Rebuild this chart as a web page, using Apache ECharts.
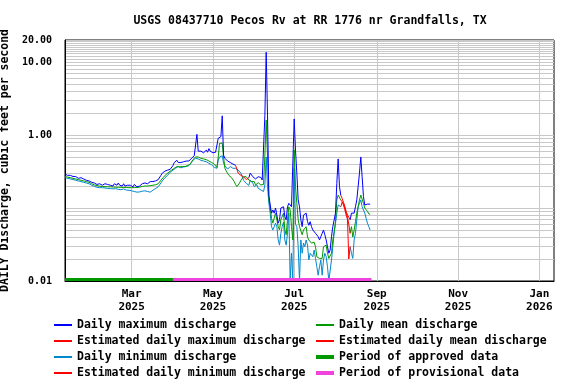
<!DOCTYPE html>
<html><head><meta charset="utf-8">
<script src="https://cdn.jsdelivr.net/npm/echarts@6/dist/echarts.min.js"></script>
<style>html,body{margin:0;padding:0;background:#fff}#c{width:576px;height:384px}</style>
</head><body><div id="c"></div>
<script>
// Daily series start on this date (year, monthIndex, day)
const seriesStart = [2025, 0, 10];

const maxQ = [
0.29,0.29,0.28,0.29,0.28,0.27,0.27,0.26,0.27,0.26,
0.255,0.25,0.26,0.25,0.25,0.245,0.24,0.245,0.235,0.23,
0.225,0.22,0.22,0.215,0.21,0.21,0.215,0.21,0.205,0.21,
0.215,0.205,0.21,0.22,0.205,0.21,0.2,0.215,0.21,0.205,
0.22,0.205,0.21,0.2,0.215,0.2,0.21,0.205,0.195,0.205,
0.2,0.195,0.21,0.2,0.195,0.205,0.2,0.21,0.215,0.225,
0.22,0.23,0.215,0.225,0.23,0.225,0.23,0.225,0.235,0.23,
0.245,0.26,0.28,0.3,0.31,0.32,0.32,0.33,0.33,0.34,
0.35,0.38,0.42,0.40,0.45,0.42,0.41,0.42,0.42,0.43,
0.43,0.44,0.45,0.44,0.46,0.48,0.5,0.52,0.55,1.02,
0.6,0.58,0.6,0.59,0.57,0.6,0.62,0.58,0.65,0.6,
0.6,0.57,0.55,0.58,0.6,0.9,0.94,0.95,1.83,0.53,
0.48,0.46,0.44,0.43,0.42,0.41,0.40,0.39,0.385,null,
null,null,null,null,null,null,null,null,0.26,0.30,
0.283,0.268,0.262,0.25,0.262,0.268,0.255,0.262,0.242,0.255,
1.83,13.6,1.83,0.15,0.11,0.085,0.094,0.085,0.1,0.08,
0.062,0.069,0.1,0.094,0.104,0.076,0.069,0.104,0.116,0.11,
0.104,0.1,1.66,0.62,0.3,0.129,0.104,0.069,0.0555,0.08,
0.076,0.085,0.065,0.058,0.065,0.0555,0.05,0.052,0.045,0.047,
0.0405,0.0365,0.0405,0.045,0.05,0.043,0.0365,0.0295,0.024,0.0266,
0.0405,0.0555,0.0686,0.085,0.218,0.47,0.196,0.15,null,null,
null,null,null,null,0.069,0.085,0.08,0.085,0.104,0.129,
0.125,0.3,0.5,0.268,0.143,0.11,0.116,0.113,0.113,0.113
];
const meanQ = [
0.27,0.268,0.265,0.265,0.26,0.26,0.255,0.255,0.25,0.25,
0.245,0.245,0.24,0.24,0.235,0.232,0.23,0.228,0.225,0.22,
0.215,0.21,0.207,0.205,0.203,0.2,0.199,0.198,0.197,0.197,
0.196,0.196,0.195,0.195,0.195,0.194,0.194,0.193,0.193,0.193,
0.192,0.192,0.192,0.192,0.191,0.191,0.191,0.19,0.19,0.19,
0.19,0.19,0.19,0.19,0.191,0.192,0.193,0.195,0.197,0.198,
0.2,0.2,0.2,0.2,0.202,0.203,0.205,0.207,0.208,0.21,
0.215,0.225,0.24,0.255,0.265,0.28,0.29,0.3,0.31,0.32,
0.33,0.34,0.35,0.36,0.37,0.37,0.365,0.365,0.37,0.37,
0.37,0.375,0.38,0.39,0.4,0.43,0.46,0.48,0.5,0.5,
0.5,0.49,0.48,0.47,0.47,0.46,0.46,0.45,0.44,0.43,
0.42,0.41,0.4,0.38,0.36,0.5,0.77,0.77,0.77,0.5,
0.35,0.32,0.3,0.28,0.27,0.26,0.25,0.23,0.21,0.196,
0.186,0.22,0.24,0.255,0.268,0.262,0.268,0.255,0.242,0.242,
0.23,0.23,0.23,0.207,0.218,0.222,0.213,0.207,0.218,0.21,
0.53,1.6,0.5,0.13,0.104,0.072,0.062,0.065,0.085,0.069,
0.0555,0.05,0.069,0.065,0.085,0.05,0.043,0.069,0.104,0.094,
0.0555,0.0365,0.62,0.196,0.116,0.069,0.0555,0.0555,0.043,0.05,
0.048,0.0555,0.04,0.0365,0.038,0.033,0.031,0.034,0.0295,0.0215,
0.0204,0.0204,0.0215,0.0204,0.0295,0.031,0.031,0.024,0.0204,0.0215,
0.024,0.0365,0.047,0.065,0.129,0.15,0.143,0.129,null,null,
null,null,null,null,0.045,0.0555,0.04,0.05,0.065,0.085,
0.104,0.129,0.15,0.143,0.116,0.1,0.094,0.09,0.083,0.082
];
const minQ = [
0.26,0.26,0.255,0.255,0.25,0.25,0.245,0.245,0.24,0.24,
0.235,0.235,0.23,0.23,0.225,0.222,0.22,0.218,0.215,0.21,
0.205,0.2,0.198,0.195,0.192,0.19,0.19,0.188,0.19,0.186,
0.188,0.186,0.185,0.186,0.184,0.186,0.183,0.185,0.184,0.182,
0.18,0.183,0.178,0.18,0.182,0.178,0.176,0.178,0.175,0.177,
0.172,0.17,0.168,0.166,0.165,0.17,0.166,0.172,0.17,0.168,
0.172,0.17,0.168,0.172,0.165,0.168,0.175,0.18,0.185,0.19,
0.196,0.205,0.22,0.235,0.25,0.26,0.27,0.28,0.295,0.31,
0.32,0.33,0.34,0.35,0.36,0.37,0.36,0.355,0.36,0.365,
0.36,0.37,0.37,0.38,0.39,0.42,0.45,0.47,0.48,0.48,
0.47,0.46,0.45,0.45,0.44,0.43,0.43,0.42,0.41,0.4,
0.39,0.38,0.36,0.35,0.35,0.45,0.5,0.5,0.52,0.41,
0.38,0.36,0.34,0.33,0.37,0.36,0.35,0.34,0.35,0.35,
0.33,0.31,0.3,0.29,0.24,0.23,0.218,0.21,0.204,0.24,
0.255,0.218,0.196,0.186,0.207,0.186,0.196,0.177,0.181,0.168,
0.207,0.5,0.196,0.116,0.085,0.0555,0.05,0.052,0.062,0.0555,
0.0365,0.031,0.045,0.0555,0.064,0.0365,0.031,0.045,0.085,0.01,
0.024,0.01,0.35,0.06,0.0555,0.0295,0.01,0.0365,0.024,0.033,
0.0295,0.0365,0.031,0.0194,0.024,0.024,0.0215,0.0266,0.0204,0.0157,
0.012,0.0157,0.0194,0.012,0.0194,0.024,0.0215,0.0157,0.01,0.01,
0.0194,0.0295,0.045,0.0617,0.085,0.11,0.116,0.104,null,null,
null,null,null,null,0.0295,0.024,0.0204,0.0365,0.045,0.0686,
0.104,0.116,0.129,0.104,0.094,0.085,0.072,0.062,0.0555,0.05
];

// Estimated segments (start date, daily values)
const estMaxMayStart = [2025, 4, 18];
const estMaxMay = [0.385,0.37,0.30,0.283,0.28,0.275,0.268,0.255,0.245,0.242,0.26];
const estAugStart = [2025, 7, 5];
const estMaxAug = [0.15,0.135,0.12,0.105,0.09,0.08,0.075,0.069];
const estMeanAug = [0.129,0.125,0.115,0.1,0.085,0.075,0.06,0.045];
const estMinAug = [0.104,0.12,0.11,0.095,0.08,0.07,0.02,0.0295];

// Data-status periods
const approvedPeriod = ['2025-01-10', '2025-04-01'];
const provisionalPeriod = ['2025-04-01', '2025-08-28'];
const periodLevel = 0.0105;

// Axes
const xRange = ['2025-01-10', '2026-01-12'];
const xTicks = ['2025-03-01','2025-05-01','2025-07-01','2025-09-01','2025-11-01','2026-01-01'];
const monthNames = ['Jan','Feb','Mar','Apr','May','Jun','Jul','Aug','Sep','Oct','Nov','Dec'];
const yRange = [0.01, 20];
const yGrid = [0.01,0.02,0.03,0.04,0.05,0.06,0.07,0.08,0.09,
  0.1,0.2,0.3,0.4,0.5,0.6,0.7,0.8,0.9,
  1,2,3,4,5,6,7,8,9,
  10,11,12,13,14,15,16,17,18,19,20];
const yLabels = [0.01, 1, 10, 20];

function ts(s){ const p = s.split('-').map(Number); return new Date(p[0], p[1]-1, p[2]).getTime(); }
function daily(arr, st){ return arr.map((v,i)=>[new Date(st[0], st[1], st[2]+i).getTime(), v]); }

const FONT = 'DejaVu Sans Mono';
const C = {max:'#0000ff', mean:'#009900', min:'#0088cc', est:'#ff0000', appr:'#009900', prov:'#ee44dd'};

function lineSeries(name, data, color, z){
  return {name, type:'line', data, showSymbol:false, symbol:'none', connectNulls:false,
    lineStyle:{color, width:1}, itemStyle:{color}, color, silent:true, z, animation:false};
}

const series = [
  lineSeries('Daily minimum discharge', daily(minQ, seriesStart), C.min, 2),
  lineSeries('Daily mean discharge', daily(meanQ, seriesStart), C.mean, 3),
  lineSeries('Daily maximum discharge', daily(maxQ, seriesStart), C.max, 4),
  lineSeries('Estimated daily maximum discharge', daily(estMaxMay, estMaxMayStart), C.est, 5),
  lineSeries('Estimated daily maximum discharge', daily(estMaxAug, estAugStart), C.est, 5),
  lineSeries('Estimated daily mean discharge', daily(estMeanAug, estAugStart), C.est, 5),
  lineSeries('Estimated daily minimum discharge', daily(estMinAug, estAugStart), C.est, 5),
  {name:'Period of approved data', type:'line', showSymbol:false, symbol:'none', silent:true, animation:false,
    data: approvedPeriod.map(d=>[ts(d), periodLevel]), lineStyle:{color:C.appr, width:3}, itemStyle:{color:C.appr}, color:C.appr, z:6},
  {name:'Period of provisional data', type:'line', showSymbol:false, symbol:'none', silent:true, animation:false,
    data: provisionalPeriod.map(d=>[ts(d), periodLevel]), lineStyle:{color:C.prov, width:3}, itemStyle:{color:C.prov}, color:C.prov, z:6}
];

const legendText = {fontFamily:FONT, fontWeight:'bold', fontSize:11.5, color:'#000', lineHeight:16};
function legend(left, top, names, h, colors){
  return {left, top, orient:'vertical', itemGap:0, itemWidth:18, itemHeight:h, selectedMode:false,
    textStyle:legendText, padding:0,
    itemStyle:{borderWidth:0},
    data: names.map((n,i)=>({name:n, icon:'rect', itemStyle:{color:colors[i], borderWidth:0, borderColor:colors[i]}}))};
}

const chart = echarts.init(document.getElementById('c'), null, {renderer:'canvas'});
chart.setOption({
  animation:false,
  backgroundColor:'#fff',
  title:{text:'USGS 08437710 Pecos Rv at RR 1776 nr Grandfalls, TX', left:305, textAlign:'center', top:10,
    textStyle:{fontFamily:FONT, fontWeight:'bold', fontSize:11.5, color:'#000'}},
  grid:{left:65, right:22, top:40, bottom:103, show:true, borderColor:'#000', borderWidth:1, backgroundColor:'transparent', containLabel:false, outerBoundsMode:'none'},
  legend:[
    legend(54, 317, ['Daily maximum discharge','Estimated daily maximum discharge','Daily minimum discharge','Estimated daily minimum discharge'], 2, [C.max,C.est,C.min,C.est]),
    legend(316, 317, ['Daily mean discharge','Estimated daily mean discharge'], 2, [C.mean,C.est]),
    legend(316, 349, ['Period of approved data','Period of provisional data'], 4, [C.appr,C.prov])
  ],
  xAxis:{type:'value', min:ts(xRange[0]), max:ts(xRange[1]), scale:true,
    axisLine:{show:true, lineStyle:{color:'#000', width:1}},
    axisTick:{show:false, customValues:xTicks.map(ts)},
    splitLine:{show:true, lineStyle:{color:'#c8c8c8', width:1}},
    axisLabel:{customValues:xTicks.map(ts), margin:7, hideOverlap:false, showMinLabel:true, showMaxLabel:true,
      fontFamily:FONT, fontWeight:'bold', fontSize:11, lineHeight:12.5, color:'#000',
      formatter:function(v){ const d=new Date(v); return monthNames[d.getMonth()]+'\n'+d.getFullYear(); }}
  },
  yAxis:{type:'log', logBase:10, min:yRange[0], max:yRange[1],
    name:'DAILY Discharge, cubic feet per second', nameLocation:'middle', nameGap:48,
    nameTextStyle:{fontFamily:FONT, fontWeight:'bold', fontSize:11.5, color:'#000'},
    axisLine:{show:true, lineStyle:{color:'#000', width:1}},
    axisTick:{show:false, customValues:yGrid},
    splitLine:{show:true, lineStyle:{color:'#c8c8c8', width:1}},
    minorSplitLine:{show:false},
    axisLabel:{customValues:yLabels, margin:13, hideOverlap:false, showMinLabel:true, showMaxLabel:true,
      fontFamily:FONT, fontWeight:'bold', fontSize:10, color:'#000',
      formatter:function(v){ return Number(v).toFixed(2); }}
  },
  series
});
</script>
</body></html>
